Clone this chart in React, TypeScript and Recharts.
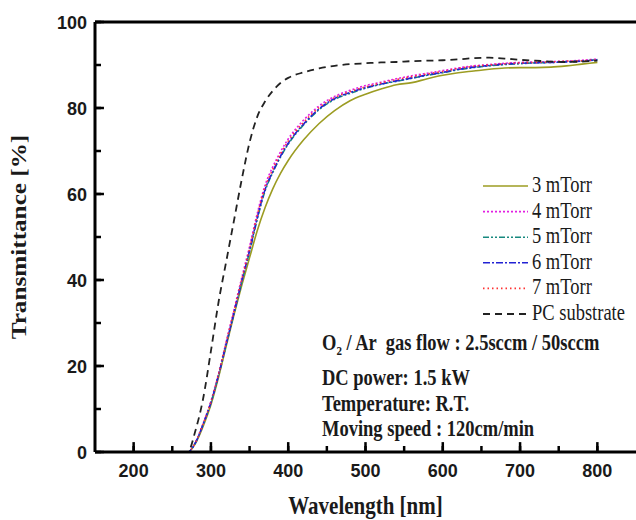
import { LineChart, Line, XAxis, YAxis, Legend, ReferenceLine } from 'recharts'

// wavelength [nm]
const wavelengths = [
    200, 250, 270, 280, 290, 300, 310, 320, 330, 340, 350, 360, 370, 380, 390, 400, 420, 440,
    460, 480, 500, 520, 540, 560, 580, 600, 620, 640, 660, 680, 700, 720, 740, 760, 780, 800,
]

// transmittance [%]
const t3mTorr = [
    0, 0, 0, 2, 6, 11, 17.5, 24.8, 32, 38.8, 45.2, 51.5, 56.8, 61.2, 64.8, 67.8, 72.6, 76.4,
    79.4, 81.7, 83.2, 84.4, 85.4, 85.9, 86.8, 87.6, 88.2, 88.6, 89, 89.3, 89.4, 89.4, 89.5, 89.8, 90.2, 90.6,
]
const t4mTorr = [
    0, 0, 0, 2.3, 6.7, 11.8, 18.4, 25.8, 33.2, 40.6, 47.8, 55.5, 62, 66.3, 69.8, 72.8, 77.2, 80.5,
    82.7, 84.1, 85.2, 86, 86.8, 87.5, 88.1, 88.7, 89.3, 89.8, 90.1, 90.4, 90.6, 90.7, 90.8, 90.9, 91.1, 91.4,
]
const t5mTorr = [
    0, 0, 0, 2.1, 6.4, 11.4, 17.9, 25.1, 32.3, 39.6, 46.6, 54.2, 60.7, 65, 68.6, 71.6, 76.1, 79.6,
    82, 83.4, 84.6, 85.5, 86.2, 86.9, 87.6, 88.2, 88.9, 89.4, 89.8, 90.1, 90.3, 90.5, 90.6, 90.8, 90.9, 91.3,
]
const t6mTorr = [
    0, 0, 0, 2.2, 6.5, 11.5, 18, 25.3, 32.5, 39.8, 46.8, 54.5, 61, 65.2, 68.8, 71.8, 76.3, 79.8,
    82.2, 83.6, 84.7, 85.6, 86.3, 87, 87.7, 88.3, 89, 89.5, 89.9, 90.2, 90.4, 90.5, 90.6, 90.7, 90.9, 91.2,
]
const t7mTorr = [
    0, 0, 0, 2.2, 6.6, 11.6, 18.2, 25.6, 32.9, 40.2, 47.2, 55, 61.5, 65.7, 69.3, 72.3, 76.7, 80.1,
    82.4, 83.8, 84.9, 85.8, 86.6, 87.3, 87.9, 88.5, 89.2, 89.7, 90, 90.3, 90.5, 90.6, 90.7, 90.9, 91, 91.2,
]
const tSubstrate = [
    0, 0, 0, 5, 12.5, 23.5, 35, 44.5, 54, 63.5, 72, 78, 81.5, 84, 85.8, 87, 88.3, 89.2,
    89.8, 90.2, 90.4, 90.6, 90.7, 90.9, 91, 91.1, 91.3, 91.6, 91.7, 91.5, 91.2, 91, 90.8, 90.7, 90.8, 91,
]

const xTicks = [200, 250, 300, 350, 400, 450, 500, 550, 600, 650, 700, 750, 800]
const yTicks = [0, 10, 20, 30, 40, 50, 60, 70, 80, 90, 100]

const notes = [
    'DC power: 1.5 kW',
    'Temperature: R.T.',
    'Moving speed : 120cm/min',
]

const series = [
    { key: 's3', name: '3 mTorr', color: '#9c9c22', dash: undefined, width: 1.6 },
    { key: 's4', name: '4 mTorr', color: '#e21fe2', dash: '2 2', width: 1.6 },
    { key: 's5', name: '5 mTorr', color: '#17897f', dash: '6 2 2 2 2 2', width: 1.6 },
    { key: 's6', name: '6 mTorr', color: '#2222d4', dash: '7 2 2 2', width: 1.6 },
    { key: 's7', name: '7 mTorr', color: '#ff3333', dash: '1.5 3', width: 1.6 },
    { key: 'pc', name: 'PC substrate', color: '#222222', dash: '7 5', width: 1.8 },
]

const rows = wavelengths.map((wl, i) => ({
    wl,
    s3: t3mTorr[i],
    s4: t4mTorr[i],
    s5: t5mTorr[i],
    s6: t6mTorr[i],
    s7: t7mTorr[i],
    pc: tSubstrate[i],
}))

const X_MIN = 150
const serif = '"Liberation Serif", "Times New Roman", serif'
const sans = '"Liberation Sans", Arial, sans-serif'

// longer inward marks on the labelled ticks (data units, ~10px)
const xMajorLen = 2.3
const yMajorLen = 11.6

function XTick({ x, y, payload }: any) {
    if (payload.value % 100 !== 0) return <g />
    return (
        <text x={x} y={y + 25} textAnchor="middle" fontFamily={sans} fontWeight="bold" fontSize={18} fill="#1a1a1a">
            {payload.value}
        </text>
    )
}

function YTick({ x, y, payload }: any) {
    if (payload.value % 20 !== 0) return <g />
    return (
        <text x={x - 8} y={y + 7} textAnchor="end" fontFamily={sans} fontWeight="bold" fontSize={18} fill="#1a1a1a">
            {payload.value}
        </text>
    )
}

function XTitle({ viewBox }: any) {
    const { x, y, width } = viewBox
    return (
        <text
            transform={`translate(${x + width / 2} ${y + 62}) scale(1 1.2)`}
            textAnchor="middle"
            fontFamily={serif}
            fontWeight="bold"
            fontSize={21}
            fill="#1a1a1a"
        >
            Wavelength [nm]
        </text>
    )
}

function YTitle({ viewBox }: any) {
    const { y, height } = viewBox
    return (
        <text
            transform={`translate(26 ${y + height / 2}) rotate(-90) scale(1.2 1)`}
            textAnchor="middle"
            fontFamily={serif}
            fontWeight="bold"
            fontSize={21}
            fill="#1a1a1a"
        >
            Transmittance [%]
        </text>
    )
}

// legend entries plus the deposition conditions underneath
function LegendBox({ payload }: any) {
    const items = payload || []
    return (
        <svg width={318} height={272}>
            {items.map((entry: any, i: number) => {
                const s = series.find((d) => d.key === entry.dataKey)
                const cy = 13 + i * 25.6
                return (
                    <g key={entry.dataKey}>
                        <line
                            x1={165}
                            y1={cy}
                            x2={210}
                            y2={cy}
                            stroke={entry.color}
                            strokeWidth={s?.width ?? 1.6}
                            strokeDasharray={s?.dash}
                        />
                        <text
                            transform={`translate(214 ${cy + 6}) scale(1 1.2)`}
                            fontFamily={serif}
                            fontSize={18.5}
                            fill="#1a1a1a"
                        >
                            {entry.value}
                        </text>
                    </g>
                )
            })}
            <g fontFamily={serif} fontWeight="bold" fontSize={18.5} fill="#1a1a1a">
                <text transform="translate(4 177) scale(1 1.2)" style={{ whiteSpace: 'pre' }}>
                    O<tspan fontSize={11} dy={4}>2</tspan>
                    <tspan dy={-4}>{' / Ar  gas flow : 2.5sccm / 50sccm'}</tspan>
                </text>
                {notes.map((line, i) => (
                    <text key={line} transform={`translate(4 ${[212, 238, 263][i]}) scale(1 1.2)`}>
                        {line}
                    </text>
                ))}
            </g>
        </svg>
    )
}

export default function App() {
    return (
        <div style={{ position: 'absolute', left: 0, top: 0, width: 636, height: 520, background: '#fff' }}>
            <LineChart width={636} height={520} data={rows} margin={{ top: 22, right: 0, left: 0, bottom: 0 }}>
                <XAxis
                    dataKey="wl"
                    type="number"
                    domain={[X_MIN, 850]}
                    ticks={xTicks}
                    interval={0}
                    height={68}
                    tickSize={-6}
                    tickMargin={6}
                    tickLine={{ stroke: '#000', strokeWidth: 2.5 }}
                    axisLine={{ stroke: '#000', strokeWidth: 3 }}
                    tick={XTick}
                    label={<XTitle />}
                    allowDataOverflow
                />
                <YAxis
                    type="number"
                    domain={[0, 100]}
                    ticks={yTicks}
                    interval={0}
                    width={95}
                    tickSize={-6}
                    tickMargin={6}
                    tickLine={{ stroke: '#000', strokeWidth: 2.5 }}
                    axisLine={{ stroke: '#000', strokeWidth: 3 }}
                    tick={YTick}
                    label={<YTitle />}
                />
                <ReferenceLine y={100} stroke="#000" strokeWidth={3} />
                {xTicks
                    .filter((t) => t % 100 === 0)
                    .map((t) => (
                        <ReferenceLine
                            key={`xt${t}`}
                            segment={[{ x: t, y: 0 }, { x: t, y: xMajorLen }]}
                            stroke="#000"
                            strokeWidth={2.5}
                        />
                    ))}
                {yTicks
                    .filter((t) => t % 20 === 0)
                    .map((t) => (
                        <ReferenceLine
                            key={`yt${t}`}
                            segment={[{ x: X_MIN, y: t }, { x: X_MIN + yMajorLen, y: t }]}
                            stroke="#000"
                            strokeWidth={2.5}
                        />
                    ))}
                {series.map((s) => (
                    <Line
                        key={s.key}
                        dataKey={s.key}
                        name={s.name}
                        type="monotone"
                        stroke={s.color}
                        strokeWidth={s.width}
                        strokeDasharray={s.dash}
                        dot={false}
                        activeDot={false}
                        isAnimationActive={false}
                    />
                ))}
                <Legend
                    layout="vertical"
                    align="center"
                    verticalAlign="middle"
                    content={LegendBox}
                    wrapperStyle={{ position: 'absolute', left: 318, top: 173, width: 318, height: 272 }}
                />
            </LineChart>
        </div>
    )
}
